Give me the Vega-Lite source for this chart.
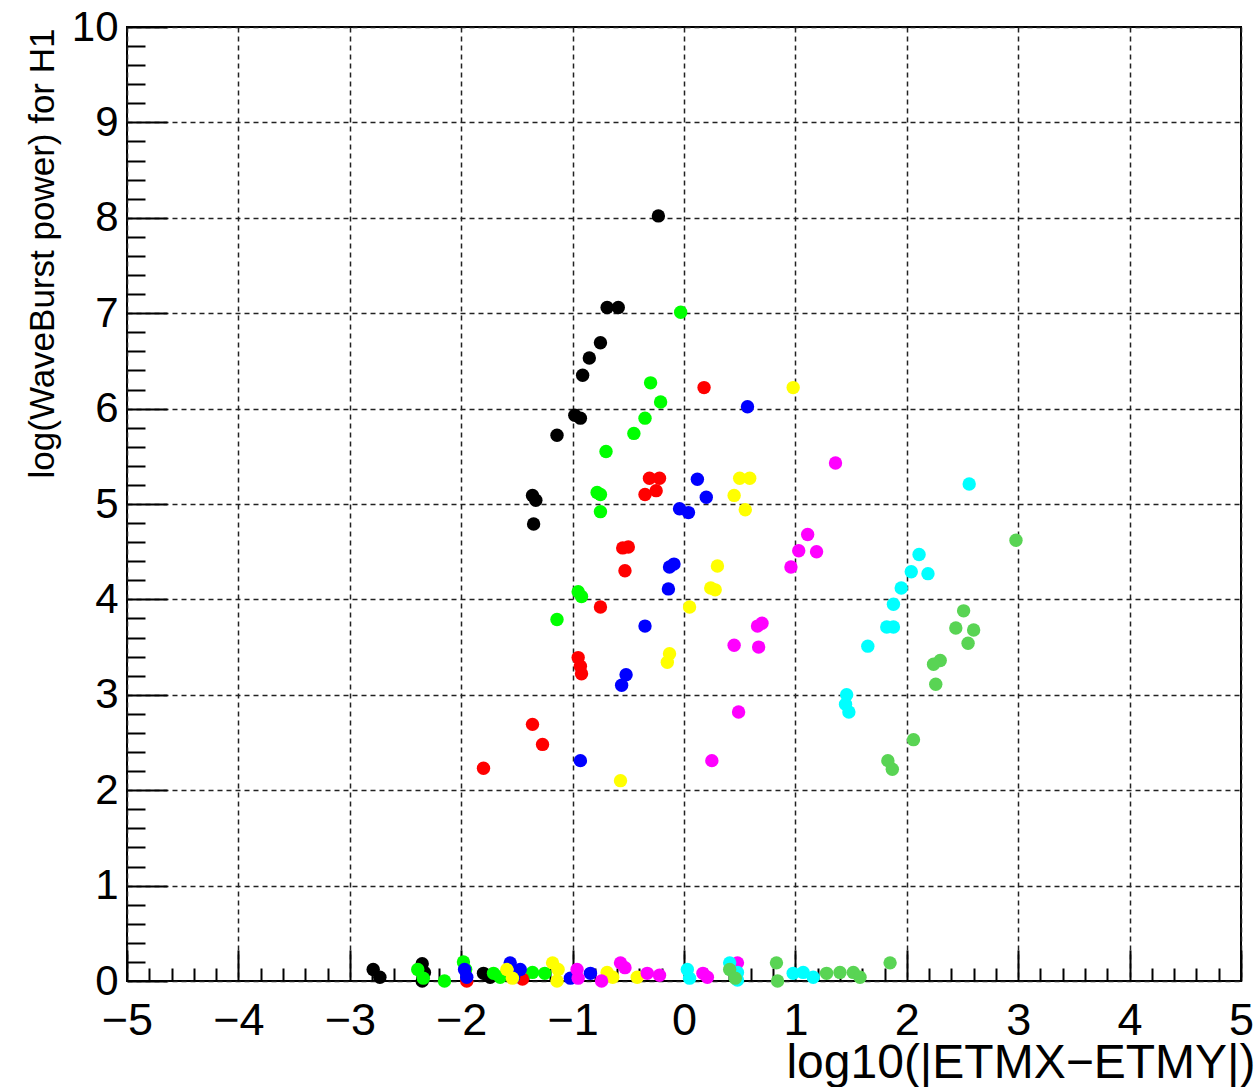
{
  "$schema": "https://vega.github.io/schema/vega-lite/v6.json",
  "width": 1114,
  "height": 954,
  "autosize": "none",
  "padding": {"left": 127, "top": 27, "right": 19, "bottom": 106},
  "background": "white",
  "config": {
    "view": {"stroke": "black", "strokeWidth": 2},
    "font": "Liberation Sans"
  },
  "datasets": {
    "pts": [
      {"s": "black", "x": -0.23, "y": 8.02},
      {"s": "black", "x": -0.69, "y": 7.06},
      {"s": "black", "x": -0.59, "y": 7.06},
      {"s": "black", "x": -0.75, "y": 6.69},
      {"s": "black", "x": -0.85, "y": 6.53},
      {"s": "black", "x": -0.91, "y": 6.35},
      {"s": "black", "x": -0.98, "y": 5.93},
      {"s": "black", "x": -0.93, "y": 5.9},
      {"s": "black", "x": -1.14, "y": 5.72},
      {"s": "black", "x": -1.36, "y": 5.09},
      {"s": "black", "x": -1.33, "y": 5.04},
      {"s": "black", "x": -1.35, "y": 4.79},
      {"s": "black", "x": -2.79, "y": 0.12},
      {"s": "black", "x": -2.73, "y": 0.04},
      {"s": "black", "x": -2.35, "y": 0.18},
      {"s": "black", "x": -2.33, "y": 0.09},
      {"s": "black", "x": -2.35, "y": 0.0},
      {"s": "black", "x": -1.8, "y": 0.08},
      {"s": "black", "x": -1.74, "y": 0.04},
      {"s": "green", "x": -0.03, "y": 7.01},
      {"s": "green", "x": -0.3, "y": 6.27},
      {"s": "green", "x": -0.21, "y": 6.07},
      {"s": "green", "x": -0.35, "y": 5.9},
      {"s": "green", "x": -0.45, "y": 5.74},
      {"s": "green", "x": -0.7, "y": 5.55},
      {"s": "green", "x": -0.78, "y": 5.12},
      {"s": "green", "x": -0.75, "y": 5.1},
      {"s": "green", "x": -0.75, "y": 4.92},
      {"s": "green", "x": -0.95, "y": 4.08},
      {"s": "green", "x": -0.92, "y": 4.03},
      {"s": "green", "x": -1.14, "y": 3.79},
      {"s": "green", "x": -2.39, "y": 0.12},
      {"s": "green", "x": -2.34, "y": 0.03},
      {"s": "green", "x": -2.15, "y": 0.0},
      {"s": "green", "x": -1.98, "y": 0.2},
      {"s": "green", "x": -1.96, "y": 0.12},
      {"s": "green", "x": -1.71, "y": 0.08},
      {"s": "green", "x": -1.65, "y": 0.04},
      {"s": "green", "x": -1.36, "y": 0.09},
      {"s": "green", "x": -1.25, "y": 0.08},
      {"s": "red", "x": 0.18, "y": 6.22},
      {"s": "red", "x": -0.31, "y": 5.27},
      {"s": "red", "x": -0.22, "y": 5.27},
      {"s": "red", "x": -0.35, "y": 5.1},
      {"s": "red", "x": -0.25, "y": 5.14},
      {"s": "red", "x": -0.55, "y": 4.54},
      {"s": "red", "x": -0.5, "y": 4.55},
      {"s": "red", "x": -0.53, "y": 4.3},
      {"s": "red", "x": -0.75, "y": 3.92},
      {"s": "red", "x": -0.95, "y": 3.39},
      {"s": "red", "x": -0.93, "y": 3.3},
      {"s": "red", "x": -0.92, "y": 3.22},
      {"s": "red", "x": -1.36, "y": 2.69},
      {"s": "red", "x": -1.27, "y": 2.48},
      {"s": "red", "x": -1.8, "y": 2.23},
      {"s": "red", "x": -1.95, "y": 0.0},
      {"s": "red", "x": -1.45, "y": 0.02},
      {"s": "blue", "x": -0.93, "y": 2.31},
      {"s": "blue", "x": 0.12, "y": 5.26},
      {"s": "blue", "x": 0.2, "y": 5.07},
      {"s": "blue", "x": 0.57, "y": 6.02},
      {"s": "blue", "x": -0.04, "y": 4.95},
      {"s": "blue", "x": 0.04, "y": 4.91},
      {"s": "blue", "x": -0.13, "y": 4.34},
      {"s": "blue", "x": -0.09, "y": 4.37},
      {"s": "blue", "x": -0.14, "y": 4.11},
      {"s": "blue", "x": -0.35, "y": 3.72},
      {"s": "blue", "x": -0.52, "y": 3.21},
      {"s": "blue", "x": -0.56, "y": 3.1},
      {"s": "blue", "x": -1.97, "y": 0.12},
      {"s": "blue", "x": -1.95, "y": 0.04},
      {"s": "blue", "x": -1.56, "y": 0.19},
      {"s": "blue", "x": -1.53, "y": 0.04},
      {"s": "blue", "x": -1.47, "y": 0.12},
      {"s": "blue", "x": -1.02, "y": 0.03},
      {"s": "blue", "x": -0.84, "y": 0.08},
      {"s": "yellow", "x": 0.98, "y": 6.22},
      {"s": "yellow", "x": 0.5, "y": 5.27},
      {"s": "yellow", "x": 0.59, "y": 5.27},
      {"s": "yellow", "x": 0.45, "y": 5.09},
      {"s": "yellow", "x": 0.55, "y": 4.94},
      {"s": "yellow", "x": 0.3, "y": 4.35},
      {"s": "yellow", "x": 0.24, "y": 4.12},
      {"s": "yellow", "x": 0.28, "y": 4.1},
      {"s": "yellow", "x": 0.05, "y": 3.92},
      {"s": "yellow", "x": -0.13, "y": 3.43},
      {"s": "yellow", "x": -0.15, "y": 3.34},
      {"s": "yellow", "x": -0.57, "y": 2.1},
      {"s": "yellow", "x": -1.59, "y": 0.12},
      {"s": "yellow", "x": -1.54, "y": 0.03},
      {"s": "yellow", "x": -1.18, "y": 0.19},
      {"s": "yellow", "x": -1.13, "y": 0.12},
      {"s": "yellow", "x": -1.14, "y": 0.0},
      {"s": "yellow", "x": -0.69, "y": 0.09},
      {"s": "yellow", "x": -0.64, "y": 0.04},
      {"s": "yellow", "x": -0.42, "y": 0.04},
      {"s": "magenta", "x": 1.36, "y": 5.43},
      {"s": "magenta", "x": 1.11, "y": 4.68},
      {"s": "magenta", "x": 1.03, "y": 4.51},
      {"s": "magenta", "x": 1.19, "y": 4.5},
      {"s": "magenta", "x": 0.96, "y": 4.34},
      {"s": "magenta", "x": 0.66, "y": 3.72},
      {"s": "magenta", "x": 0.7, "y": 3.75},
      {"s": "magenta", "x": 0.45, "y": 3.52},
      {"s": "magenta", "x": 0.67, "y": 3.5},
      {"s": "magenta", "x": 0.49, "y": 2.82},
      {"s": "magenta", "x": 0.25, "y": 2.31},
      {"s": "magenta", "x": -0.96, "y": 0.12},
      {"s": "magenta", "x": -0.95, "y": 0.03},
      {"s": "magenta", "x": -0.74, "y": 0.0},
      {"s": "magenta", "x": -0.57, "y": 0.19},
      {"s": "magenta", "x": -0.53, "y": 0.14},
      {"s": "magenta", "x": -0.33, "y": 0.08},
      {"s": "magenta", "x": -0.22, "y": 0.06},
      {"s": "magenta", "x": 0.17, "y": 0.08},
      {"s": "magenta", "x": 0.21, "y": 0.04},
      {"s": "magenta", "x": 0.48, "y": 0.19},
      {"s": "cyan", "x": 2.56, "y": 5.21},
      {"s": "cyan", "x": 2.11, "y": 4.47},
      {"s": "cyan", "x": 2.04, "y": 4.29},
      {"s": "cyan", "x": 2.19, "y": 4.27},
      {"s": "cyan", "x": 1.95, "y": 4.12},
      {"s": "cyan", "x": 1.88, "y": 3.95},
      {"s": "cyan", "x": 1.82, "y": 3.71},
      {"s": "cyan", "x": 1.88, "y": 3.71},
      {"s": "cyan", "x": 1.65, "y": 3.51},
      {"s": "cyan", "x": 1.46, "y": 3.0},
      {"s": "cyan", "x": 1.45, "y": 2.9},
      {"s": "cyan", "x": 1.48, "y": 2.82},
      {"s": "cyan", "x": 0.03, "y": 0.12},
      {"s": "cyan", "x": 0.05, "y": 0.03},
      {"s": "cyan", "x": 0.41, "y": 0.19},
      {"s": "cyan", "x": 0.48, "y": 0.09},
      {"s": "cyan", "x": 0.48, "y": 0.01},
      {"s": "cyan", "x": 0.98, "y": 0.08},
      {"s": "cyan", "x": 1.07, "y": 0.09},
      {"s": "cyan", "x": 1.16, "y": 0.04},
      {"s": "lightgreen", "x": 2.98, "y": 4.62},
      {"s": "lightgreen", "x": 2.51, "y": 3.88},
      {"s": "lightgreen", "x": 2.44, "y": 3.7},
      {"s": "lightgreen", "x": 2.6, "y": 3.68},
      {"s": "lightgreen", "x": 2.55, "y": 3.54},
      {"s": "lightgreen", "x": 2.3, "y": 3.36},
      {"s": "lightgreen", "x": 2.24, "y": 3.32},
      {"s": "lightgreen", "x": 2.26, "y": 3.11},
      {"s": "lightgreen", "x": 2.06, "y": 2.53},
      {"s": "lightgreen", "x": 1.83, "y": 2.31},
      {"s": "lightgreen", "x": 1.87, "y": 2.22},
      {"s": "lightgreen", "x": 0.41, "y": 0.12},
      {"s": "lightgreen", "x": 0.46, "y": 0.03},
      {"s": "lightgreen", "x": 0.83, "y": 0.19},
      {"s": "lightgreen", "x": 0.84, "y": 0.0},
      {"s": "lightgreen", "x": 1.28, "y": 0.08},
      {"s": "lightgreen", "x": 1.4, "y": 0.09},
      {"s": "lightgreen", "x": 1.52, "y": 0.09},
      {"s": "lightgreen", "x": 1.58, "y": 0.04},
      {"s": "lightgreen", "x": 1.85, "y": 0.19}
    ]
  },
  "layer": [
    {
      "data": {"name": "pts"},
      "mark": {"type": "point", "filled": true, "shape": "circle", "size": 180, "opacity": 1},
      "encoding": {
        "x": {
          "field": "x", "type": "quantitative",
          "scale": {"domain": [-5, 5], "nice": false, "zero": false},
          "axis": {
            "values": [-5,-4.8,-4.6,-4.4,-4.2,-4,-3.8,-3.6,-3.4,-3.2,-3,-2.8,-2.6,-2.4,-2.2,-2,-1.8,-1.6,-1.4,-1.2,-1,-0.8,-0.6,-0.4,-0.2,0,0.2,0.4,0.6,0.8,1,1.2,1.4,1.6,1.8,2,2.2,2.4,2.6,2.8,3,3.2,3.4,3.6,3.8,4,4.2,4.4,4.6,4.8,5],
            "tickCount": 200,
            "title": "log10(|ETMX\u2212ETMY|)",
            "titleFont": "Liberation Sans",
            "titleFontSize": 48,
            "titleFontWeight": "normal",
            "titleColor": "black",
            "titleAnchor": "end",
            "titleAlign": "right",
            "titleBaseline": "alphabetic",
            "titleX": 1128,
            "titleY": 96,
            "labelExpr": "datum.value % 1 === 0 ? format(datum.value, 'd') : ''",
            "labelFont": "Liberation Sans",
            "labelFontSize": 45,
            "labelColor": "black",
            "labelPadding": 48,
            "labelFlush": false,
            "labelOverlap": false,
            "domain": false,
            "tickColor": "black",
            "tickWidth": 2,
            "tickSize": {"condition": {"test": "datum.value % 1 === 0", "value": -31}, "value": -13},
            "grid": true,
            "gridColor": "#222222",
            "gridDash": [5, 4],
            "gridWidth": 1.5,
            "gridOpacity": {"condition": {"test": "datum.value % 1 === 0", "value": 1}, "value": 0}
          }
        },
        "y": {
          "field": "y", "type": "quantitative",
          "scale": {"domain": [0, 10], "nice": false, "zero": false},
          "axis": {
            "values": [0,0.2,0.4,0.6,0.8,1,1.2,1.4,1.6,1.8,2,2.2,2.4,2.6,2.8,3,3.2,3.4,3.6,3.8,4,4.2,4.4,4.6,4.8,5,5.2,5.4,5.6,5.8,6,6.2,6.4,6.6,6.8,7,7.2,7.4,7.6,7.8,8,8.2,8.4,8.6,8.8,9,9.2,9.4,9.6,9.8,10],
            "tickCount": 200,
            "title": "log(WaveBurst power) for H1",
            "titleFont": "Liberation Sans",
            "titleFontSize": 35,
            "titleFontWeight": "normal",
            "titleColor": "black",
            "titleAnchor": "end",
            "titleAlign": "right",
            "titleBaseline": "middle",
            "titleAngle": -90,
            "titleX": -85,
            "titleY": 1,
            "labelExpr": "datum.value % 1 === 0 ? format(datum.value, 'd') : ''",
            "labelFont": "Liberation Sans",
            "labelFontSize": 42,
            "labelColor": "black",
            "labelPadding": 49,
            "labelFlush": false,
            "labelOverlap": false,
            "domain": false,
            "tickColor": "black",
            "tickWidth": 2,
            "tickSize": {"condition": {"test": "datum.value % 1 === 0", "value": -40}, "value": -18},
            "grid": true,
            "gridColor": "#222222",
            "gridDash": [5, 4],
            "gridWidth": 1.5,
            "gridOpacity": {"condition": {"test": "datum.value % 1 === 0", "value": 1}, "value": 0}
          }
        },
        "color": {
          "field": "s", "type": "nominal",
          "scale": {
            "domain": ["black", "green", "red", "blue", "yellow", "magenta", "cyan", "lightgreen"],
            "range": ["#000000", "#00ff00", "#ff0000", "#0000ff", "#ffff00", "#ff00ff", "#00ffff", "#59d454"]
          },
          "legend": null
        }
      }
    },
    {
      "mark": {"type": "rule", "color": "#ff0000", "strokeWidth": 2.5},
      "encoding": {
        "x": {"datum": -5, "type": "quantitative"},
        "x2": {"datum": 5},
        "y": {"datum": 0, "type": "quantitative"}
      }
    },
    {
      "mark": {"type": "rule", "color": "#ff0000", "strokeWidth": 2.5},
      "encoding": {
        "x": {"datum": 4.99, "type": "quantitative"},
        "y": {"datum": 0, "type": "quantitative"},
        "y2": {"datum": 10}
      }
    }
  ]
}
